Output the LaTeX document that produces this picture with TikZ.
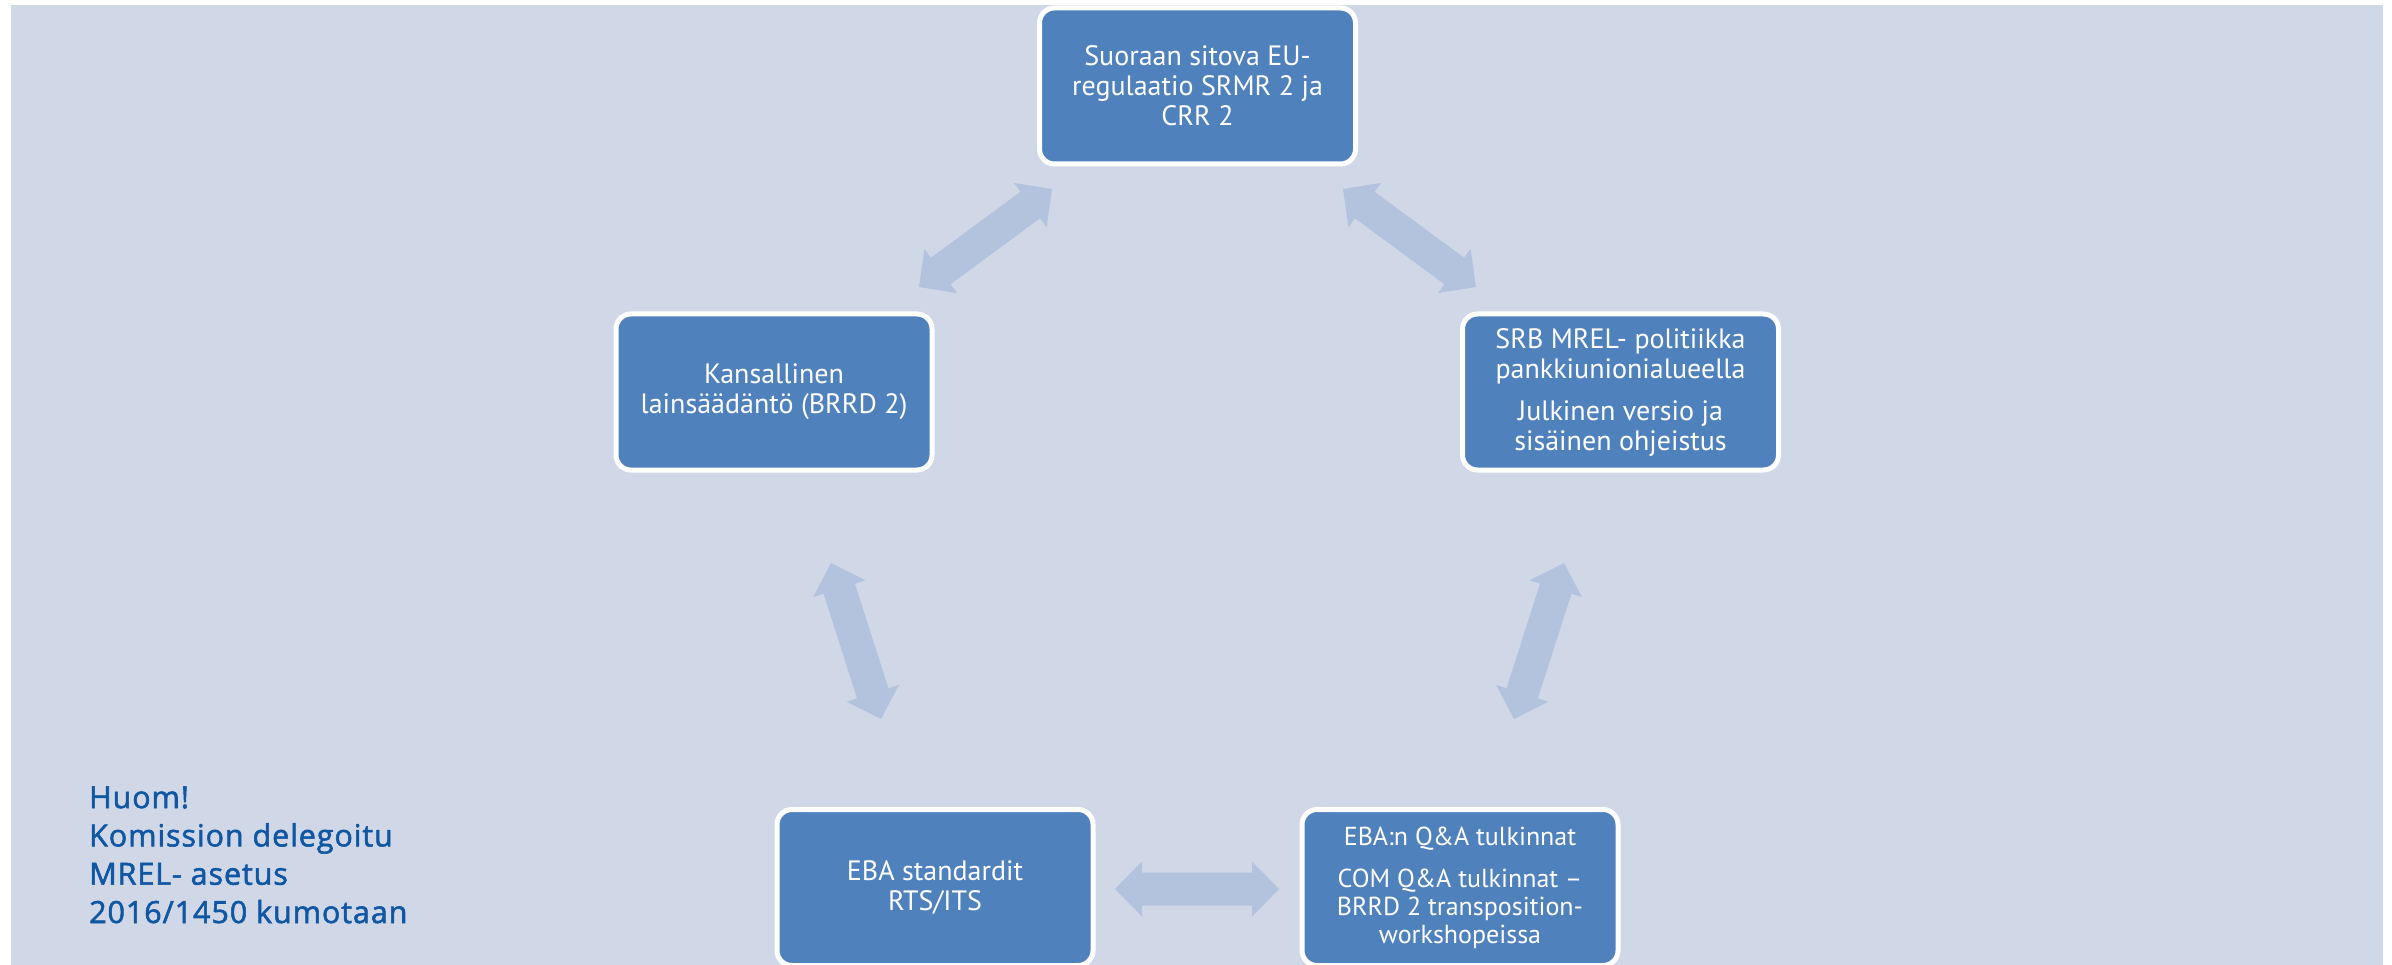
\documentclass[tikz,border=0pt]{standalone}
\usepackage{fontspec}
\setmainfont{PT Sans}
\newfontfamily\notefont[FakeBold=1.8,LetterSpace=3]{Open Sans}
\usetikzlibrary{calc}
\definecolor{bgc}{HTML}{D0D8E8}
\definecolor{boxc}{HTML}{4F81BD}
\definecolor{arrc}{HTML}{B3C3DD}
\definecolor{notec}{HTML}{0F56A3}
\newcommand\dblarrow[2]{%
  \coordinate (#1h) at ($(#1)!27pt!(#2)$);
  \coordinate (#2h) at ($(#2)!27pt!(#1)$);
  \fill[arrc] (#1) -- ($(#1h)!27.5pt!90:(#2)$) -- ($(#1h)!16.5pt!90:(#2)$)
    -- ($(#2h)!16.5pt!-90:(#1)$) -- ($(#2h)!27.5pt!-90:(#1)$) -- (#2)
    -- ($(#2h)!27.5pt!90:(#1)$) -- ($(#2h)!16.5pt!90:(#1)$)
    -- ($(#1h)!16.5pt!-90:(#2)$) -- ($(#1h)!27.5pt!-90:(#2)$) -- cycle;
}
\begin{document}
\begin{tikzpicture}[x=1pt,y=-1pt,
  box/.style={draw=white, line width=5pt, fill=boxc, rounded corners=15pt,
    minimum width=316pt, minimum height=156pt, text=white, align=center,
    inner sep=0pt, font=\fontsize{28}{30}\selectfont},
  note/.style={text=notec, align=left, inner sep=0pt, anchor=base west,
    font=\notefont\fontsize{30.5}{38.3}\selectfont}]
\useasboundingbox (0,0) rectangle (2392,965);
\fill[bgc] (11,5) rectangle (2383,965);

% arrows
\coordinate (tlA) at (919,287);  \coordinate (tlB) at (1052,189);
\coordinate (trA) at (1343,189); \coordinate (trB) at (1476,287);
\coordinate (lA) at (831,563);   \coordinate (lB) at (881,719);
\coordinate (rA) at (1564,563);  \coordinate (rB) at (1514,719);
\coordinate (bA) at (1115,889);  \coordinate (bB) at (1279,889);
\dblarrow{tlA}{tlB}
\dblarrow{trA}{trB}
\dblarrow{lA}{lB}
\dblarrow{rA}{rB}
\dblarrow{bA}{bB}

% boxes
\node[box] (top) at (1197.5,86) {Suoraan sitova EU-\\regulaatio SRMR 2 ja\\CRR 2};
\node[box] (left) at (774,392) {Kansallinen\\lainsäädäntö (BRRD 2)};
\node[box] (right) at (1620.5,392) {SRB MREL- politiikka\\pankkiunionialueella\\[12pt]Julkinen versio ja\\sisäinen ohjeistus};
\node[box] (bl) at (935,887.5) {EBA standardit\\RTS/ITS};
\node[box, font=\fontsize{26}{28}\selectfont] (br) at (1460,887.5) {EBA:n Q\&A tulkinnat\\[14pt]COM Q\&A tulkinnat –\\BRRD 2 transposition-\\workshopeissa};

% note (base anchor = baseline of last line)
\node[note] (huom) at (89,923) {Huom!\\Komission delegoitu\\MREL- asetus\\2016/1450 kumotaan};
\end{tikzpicture}
\end{document}
